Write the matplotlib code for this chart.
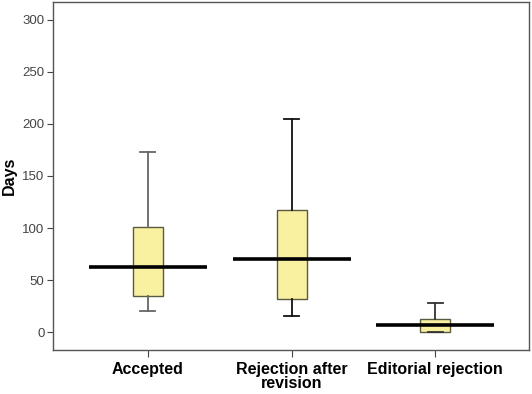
import matplotlib
matplotlib.use("Agg")
import matplotlib.pyplot as plt
import numpy as np

plt.rcParams["font.family"] = ["Liberation Sans", "DejaVu Sans"]

# group labels and box statistics (days)
categories = ["Accepted", "Rejection after\nrevision", "Editorial rejection"]
whisker_low = [20, 16, 0]
q1 = [35, 32, 0.5]
median = [63, 70, 7]
q3 = [101, 117, 12.5]
whisker_high = [173, 205, 28]
whisker_colors = ["#666666", "#111111", "#333333"]

positions = np.arange(1, len(categories) + 1)

stats = []
for i in range(len(categories)):
    stats.append({
        "whislo": whisker_low[i], "q1": q1[i], "med": median[i],
        "q3": q3[i], "whishi": whisker_high[i], "fliers": [],
    })

fig = plt.figure(figsize=(5.32, 3.94), dpi=100)
ax = fig.add_axes([0.0996, 0.1117, 0.8944, 0.8833])

bp = ax.bxp(stats, positions=positions, widths=0.21, patch_artist=True,
            showfliers=False,
            boxprops=dict(facecolor="#f9f1a0", edgecolor="#5a5a40", linewidth=1.0),
            whiskerprops=dict(linewidth=1.3),
            capprops=dict(linewidth=1.3),
            medianprops=dict(visible=False))

for i, c in enumerate(whisker_colors):
    for ln in bp["whiskers"][2 * i:2 * i + 2] + bp["caps"][2 * i:2 * i + 2]:
        ln.set_color(c)

# the wide median bars
ax.hlines(median, positions - 0.41, positions + 0.41, colors="black", linewidth=2.6, zorder=5)

ax.set_xlim(0.34, 3.65)
ax.set_ylim(-17, 317)
ax.set_yticks([0, 50, 100, 150, 200, 250, 300])
ax.set_xticks(positions)
ax.set_xticklabels(categories, fontsize=11.5, fontweight="bold", linespacing=0.9)
ax.tick_params(axis="y", labelsize=9.5, labelcolor="#444444", length=4, color="#444444", pad=2)
ax.tick_params(axis="x", length=5, color="#444444", pad=4)
ax.set_ylabel("Days", fontsize=11.5, fontweight="bold", labelpad=4)

for s in ax.spines.values():
    s.set_color("#555555")
    s.set_linewidth(1.0)

fig.savefig("out.png", dpi=100)
